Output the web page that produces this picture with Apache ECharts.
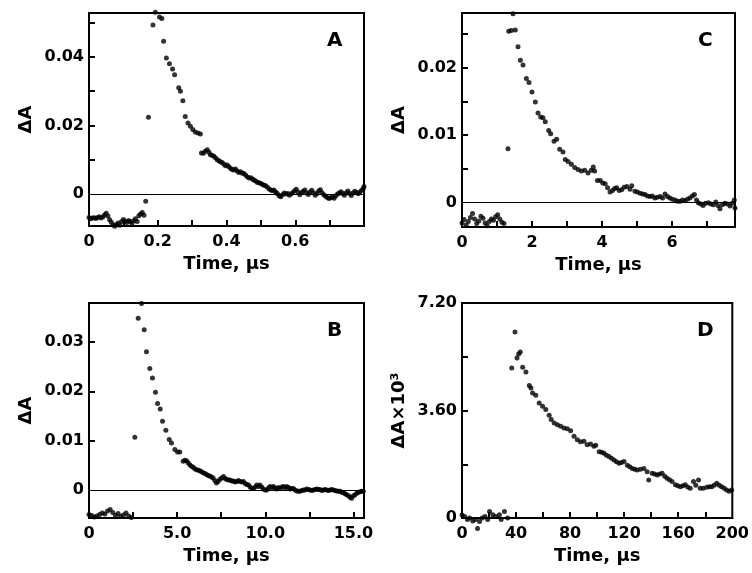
<!DOCTYPE html>
<html>
<head>
<meta charset="utf-8">
<script src="https://cdn.jsdelivr.net/npm/echarts@6/dist/echarts.min.js"></script>
<style>html,body{margin:0;padding:0;background:#fff}#chart{width:752px;height:573px}</style>
</head>
<body>
<div id="chart"></div>
<script>
// ---------------- Panel A ----------------
const aTime = [0.000,0.005,0.010,0.015,0.020,0.025,0.030,0.035,0.040,0.045,0.050,0.055,0.060,0.065,0.070,0.075,0.080,0.085,0.090,0.095,0.100,0.105,0.110,0.115,0.120,0.125,0.130,0.135,0.140,0.145,0.150,0.155,0.160,0.165,
0.173,0.186,0.193,0.205,0.212,0.217,0.225,0.234,0.243,0.249,0.261,0.266,0.273,0.280,0.288,0.295,0.302,0.309,0.317,0.324,
0.327,0.333,0.338,0.344,0.349,0.353,0.358,0.363,0.368,0.373,0.378,0.382,0.387,0.392,0.397,0.402,0.407,0.412,0.417,0.421,0.426,0.431,0.436,0.441,0.446,0.451,0.456,0.461,0.466,0.471,0.476,0.480,0.485,0.490,0.495,0.500,0.505,0.509,0.514,0.519,0.524,0.529,0.534,0.538,0.543,0.548,0.553,0.558,0.563,0.568,0.573,0.578,0.583,0.588,0.593,0.598,0.603,0.608,0.613,0.618,0.623,0.628,0.633,0.638,0.643,0.648,0.653,0.658,0.663,0.668,0.673,0.678,0.683,0.688,0.693,0.698,0.703,0.708,0.713,0.718,0.723,0.728,0.733,0.738,0.743,0.748,0.753,0.758,0.763,0.768,0.773,0.778,0.783,0.788,0.793,0.798,0.800];
const aDelta = [-0.0068,-0.0072,-0.0070,-0.0069,-0.0071,-0.0068,-0.0066,-0.0070,-0.0067,-0.0061,-0.0056,-0.0064,-0.0075,-0.0082,-0.0090,-0.0094,-0.0088,-0.0084,-0.0091,-0.0080,-0.0074,-0.0079,-0.0083,-0.0077,-0.0080,-0.0086,-0.0078,-0.0072,-0.0080,-0.0063,-0.0058,-0.0054,-0.0062,-0.0021,
0.0224,0.0493,0.0530,0.0516,0.0512,0.0446,0.0397,0.0380,0.0365,0.0348,0.0310,0.0300,0.0272,0.0226,0.0207,0.0198,0.0188,0.0181,0.0178,0.0175,
0.0120,0.0119,0.0125,0.0129,0.0122,0.0115,0.0113,0.0110,0.0106,0.0100,0.0097,0.0094,0.0092,0.0088,0.0083,0.0085,0.0080,0.0075,0.0072,0.0070,0.0073,0.0067,0.0063,0.0065,0.0061,0.0060,0.0055,0.0050,0.0047,0.0048,0.0043,0.0041,0.0038,0.0034,0.0033,0.0031,0.0028,0.0026,0.0024,0.0020,0.0015,0.0012,0.0010,0.0012,0.0006,0.0002,-0.0005,-0.0008,-0.0002,0.0003,0.0000,0.0002,-0.0003,0.0001,0.0005,0.0010,0.0014,0.0006,-0.0002,0.0004,0.0008,0.0012,0.0003,-0.0001,0.0006,0.0011,0.0004,-0.0003,0.0002,0.0009,0.0013,0.0004,-0.0002,-0.0006,-0.0010,-0.0013,-0.0011,-0.0008,-0.0012,-0.0005,0.0000,0.0003,0.0007,0.0002,-0.0003,0.0004,0.0009,0.0002,-0.0004,0.0003,0.0008,0.0005,0.0001,0.0006,0.0011,0.0016,0.0022];
const aXTicks = [0,0.1,0.2,0.3,0.4,0.5,0.6,0.7];
const aXLabels = [0,0.2,0.4,0.6];
const aYTicks = [0.01,0.02,0.03,0.04,0.05];
const aYLabels = [0,0.02,0.04];

// ---------------- Panel C ----------------
const cTime = [0.00,0.06,0.12,0.18,0.24,0.30,0.36,0.42,0.48,0.54,0.60,0.66,0.72,0.78,0.84,0.90,0.96,1.02,1.08,1.14,1.20,
1.314,1.334,1.41,1.457,1.523,1.60,1.667,1.743,1.838,1.914,2.0,2.095,2.171,2.248,2.314,2.38,2.476,2.533,2.629,2.705,2.79,2.886,2.95,3.029,3.124,3.22,3.314,3.41,3.506,3.6,3.694,3.75,3.79,3.87,3.95,4.02,4.09,4.16,4.23,4.30,4.36,4.42,4.49,4.56,4.63,4.71,4.80,4.85,4.94,5.01,5.09,5.16,5.23,5.30,5.37,5.44,5.51,5.58,5.66,5.73,5.80,5.87,5.94,6.01,6.09,6.16,6.23,6.30,6.37,6.44,6.51,6.58,6.64,6.70,6.75,6.82,6.89,6.96,7.04,7.11,7.18,7.25,7.31,7.37,7.44,7.51,7.58,7.66,7.72,7.78,7.80];
const cDelta = [-0.0030,-0.0025,-0.0033,-0.0028,-0.0022,-0.0016,-0.0024,-0.0031,-0.0027,-0.0020,-0.0023,-0.0030,-0.0034,-0.0028,-0.0024,-0.0026,-0.0021,-0.0018,-0.0024,-0.0029,-0.0031,
0.0080,0.0254,0.0255,0.0280,0.0256,0.0231,0.0211,0.0204,0.0184,0.0178,0.0164,0.0149,0.0133,0.0127,0.0126,0.0120,0.0107,0.0102,0.0091,0.0094,0.0079,0.0075,0.0064,0.0061,0.0057,0.0052,0.0049,0.0047,0.0048,0.0044,0.0048,0.0053,0.0047,0.0033,0.0033,0.0029,0.0028,0.0022,0.0016,0.0018,0.0021,0.0022,0.0018,0.0019,0.0023,0.0024,0.0020,0.0025,0.0017,0.0016,0.0014,0.0013,0.0012,0.0010,0.0009,0.0010,0.0007,0.0008,0.0009,0.0007,0.0013,0.0009,0.0007,0.0005,0.0004,0.0002,0.0002,0.0004,0.0003,0.0005,0.0007,0.0010,0.0012,0.0004,0.0000,-0.0002,-0.0004,-0.0001,0.0000,-0.0002,-0.0003,0.0001,-0.0004,-0.0009,-0.0003,-0.0001,-0.0002,-0.0005,-0.0001,0.0004,-0.0008];
const cXTicks = [0,1,2,3,4,5,6,7];
const cXLabels = [0,2,4,6];
const cYTicks = [0.005,0.01,0.015,0.02,0.025];
const cYLabels = [0,0.01,0.02];

// ---------------- Panel B ----------------
const bTime = [0.0,0.15,0.3,0.45,0.6,0.75,0.9,1.05,1.2,1.35,1.5,1.65,1.8,1.95,2.1,2.25,2.4,
2.6,2.79,2.98,3.13,3.26,3.45,3.6,3.77,3.89,4.04,4.17,4.36,4.55,4.68,4.87,5.02,5.15,5.34,5.44,5.53,5.62,5.72,5.81,5.91,6.0,6.1,6.2,6.29,6.38,6.48,6.58,6.67,6.76,6.85,6.95,7.04,7.14,7.23,7.32,7.42,7.52,7.63,7.72,7.81,7.9,8.0,8.1,8.19,8.29,8.38,8.48,8.57,8.67,8.76,8.86,8.95,9.05,9.14,9.24,9.33,9.43,9.52,9.61,9.7,9.8,9.89,9.99,10.08,10.18,10.27,10.37,10.46,10.56,10.65,10.75,10.84,10.94,11.03,11.13,11.22,11.32,11.41,11.5,11.6,11.69,11.79,11.88,11.97,12.07,12.16,12.26,12.35,12.45,12.54,12.64,12.73,12.83,12.92,13.01,13.1,13.2,13.29,13.39,13.48,13.58,13.67,13.77,13.86,13.96,14.05,14.15,14.24,14.34,14.43,14.53,14.62,14.72,14.81,14.9,15.0,15.09,15.19,15.28,15.38,15.47,15.56];
const bDelta = [-0.0050,-0.0052,-0.0055,-0.0053,-0.0050,-0.0047,-0.0049,-0.0043,-0.0040,-0.0046,-0.0052,-0.0048,-0.0054,-0.0051,-0.0047,-0.0053,-0.0056,
0.0107,0.0348,0.0378,0.0325,0.0280,0.0246,0.0227,0.0198,0.0175,0.0164,0.0139,0.0121,0.0102,0.0095,0.0082,0.0077,0.0077,0.0058,0.0060,0.0059,0.0055,0.0051,0.0048,0.0046,0.0043,0.0041,0.0040,0.0039,0.0037,0.0035,0.0033,0.0031,0.0029,0.0028,0.0026,0.0024,0.0019,0.0014,0.0017,0.0021,0.0024,0.0027,0.0023,0.0021,0.0020,0.0020,0.0018,0.0018,0.0016,0.0017,0.0019,0.0017,0.0016,0.0017,0.0013,0.0011,0.0010,0.0006,0.0003,0.0003,0.0006,0.0010,0.0007,0.0010,0.0006,0.0002,0.0000,0.0000,0.0004,0.0007,0.0005,0.0007,0.0004,0.0002,0.0005,0.0003,0.0006,0.0007,0.0004,0.0007,0.0005,0.0002,0.0003,0.0003,0.0000,-0.0002,-0.0003,-0.0003,-0.0001,0.0000,0.0000,0.0002,0.0001,0.0000,-0.0001,0.0000,0.0001,0.0002,0.0001,0.0001,-0.0001,0.0000,0.0001,0.0000,-0.0001,0.0000,0.0001,0.0000,-0.0001,-0.0002,-0.0003,-0.0003,-0.0005,-0.0006,-0.0008,-0.0010,-0.0012,-0.0015,-0.0017,-0.0012,-0.0010,-0.0007,-0.0005,-0.0004,-0.0003,-0.0003];
const bXTicks = [0,2.5,5,7.5,10,12.5,15];
const bXLabels = [0,5,10,15];
const bYTicks = [0.01,0.02,0.03];
const bYLabels = [0,0.01,0.02,0.03];

// ---------------- Panel D ----------------
const dTime = [0,2,4,5.6,8,10,11.5,13,15,17,19,20.4,22.8,25,27.7,29,31.4,33.8,
36.8,39.2,40.7,41.9,43.1,44.9,47.3,49.8,51.0,52.2,54.6,57.1,59.6,62.0,64.5,66.0,68.2,70.6,73.0,75.5,77.9,80.4,82.9,85.3,87.7,90.2,92.6,95.1,97.6,99.0,101.5,103.3,105.1,106.9,108.8,110.6,112.5,114.3,116.2,118.0,119.9,122.3,124.1,126.0,127.8,129.6,132.0,134.6,137.0,138.2,140.7,142.5,144.4,146.2,148.1,150.0,151.7,153.5,155.4,157.9,159.7,161.6,163.4,165.2,167.0,168.9,171.3,173.0,175.0,176.3,178.5,181.1,183.0,184.8,186.6,188.5,190.3,192.1,194.0,195.8,197.6,199.5];
const dDelta = [0.10,0.05,-0.05,0.00,-0.10,-0.05,-0.35,-0.12,0.00,0.05,-0.05,0.22,0.11,0.05,0.11,-0.05,0.22,0.00,
5.02,6.23,5.36,5.49,5.56,5.05,4.89,4.44,4.35,4.19,4.11,3.85,3.74,3.63,3.44,3.30,3.18,3.12,3.07,3.01,2.99,2.92,2.74,2.62,2.55,2.57,2.45,2.48,2.40,2.44,2.22,2.20,2.17,2.10,2.06,2.00,1.94,1.88,1.83,1.86,1.89,1.77,1.72,1.66,1.63,1.61,1.63,1.66,1.55,1.27,1.50,1.47,1.44,1.47,1.50,1.40,1.33,1.28,1.22,1.11,1.08,1.05,1.08,1.11,1.04,1.00,1.22,1.10,1.27,1.00,1.00,1.03,1.05,1.05,1.10,1.16,1.10,1.05,1.00,0.94,0.90,0.94];
const dXTicks = [0,20,40,60,80,100,120,140,160,180];
const dXLabels = [0,40,80,120,160,200];
const dYTicks = [1.8,3.6,5.4];
const dYLabels = [0,3.6,7.2];

const FONT = 'DejaVu Sans';
const INK = '#000';
const zip = (xs, ys) => xs.map((x, i) => [x, ys[i]]);

const panels = [
  {key:'A', grid:{left:89, top:13, width:275, height:213}, x:[0,0.8], y:[-0.0093,0.0528],
   xt:aXTicks, xl:aXLabels, yt:aYTicks, yl:aYLabels, data:zip(aTime,aDelta),
   xf:v => v === 0 ? '0' : v.toFixed(1), yf:v => v === 0 ? '0' : v.toFixed(2), yname:'ΔA', zero:true},
  {key:'C', grid:{left:462, top:13, width:273, height:214}, x:[0,7.8], y:[-0.0036,0.0281],
   xt:cXTicks, xl:cXLabels, yt:cYTicks, yl:cYLabels, data:zip(cTime,cDelta),
   xf:v => String(v), yf:v => v === 0 ? '0' : v.toFixed(2), yname:'ΔA', zero:true},
  {key:'B', grid:{left:89, top:303, width:275, height:215}, x:[0,15.6], y:[-0.0057,0.0379],
   xt:bXTicks, xl:bXLabels, yt:bYTicks, yl:bYLabels, data:zip(bTime,bDelta),
   xf:v => v === 0 ? '0' : v.toFixed(1), yf:v => v === 0 ? '0' : v.toFixed(2), yname:'ΔA', zero:true},
  {key:'D', grid:{left:462, top:303, width:272, height:215}, x:[0,200], y:[0,7.2],
   xt:dXTicks, xl:dXLabels, yt:dYTicks, yl:dYLabels, data:zip(dTime,dDelta),
   xf:v => String(v), yf:v => v === 0 ? '0' : v.toFixed(2), yname:'ΔA×10³', zero:false}
];

const grid = [], xAxis = [], yAxis = [], series = [], graphic = [];
panels.forEach((p, i) => {
  grid.push(Object.assign({show:true, borderColor:INK, borderWidth:2, backgroundColor:'transparent'}, p.grid));
  xAxis.push({
    type:'value', gridIndex:i, min:p.x[0], max:p.x[1],
    name:'Time, μs', nameLocation:'middle', nameGap:29,
    nameTextStyle:{fontFamily:FONT, fontSize:18, fontWeight:'bold', color:INK},
    axisLine:{onZero:false, lineStyle:{color:INK, width:2}},
    axisTick:{show:true, inside:true, length:6, customValues:p.xt, lineStyle:{color:INK, width:2}},
    axisLabel:{customValues:p.xl, formatter:p.xf, margin:8, fontFamily:FONT, fontSize:16, fontWeight:'bold', color:INK},
    splitLine:{show:false}
  });
  yAxis.push({
    type:'value', gridIndex:i, min:p.y[0], max:p.y[1],
    name:p.yname, nameLocation:'middle', nameGap:54, nameRotate:90,
    nameTextStyle:{fontFamily:FONT, fontSize:18, fontWeight:'bold', color:INK},
    axisLine:{lineStyle:{color:INK, width:2}},
    axisTick:{show:true, inside:true, length:6, customValues:p.yt, lineStyle:{color:INK, width:2}},
    axisLabel:{customValues:p.yl, formatter:p.yf, margin:5, fontFamily:FONT, fontSize:16, fontWeight:'bold', color:INK},
    splitLine:{show:false}
  });
  const s = {
    type:'scatter', xAxisIndex:i, yAxisIndex:i, data:p.data, clip:false,
    symbol:'circle', symbolSize:5, itemStyle:{color:INK}, silent:true
  };
  if (p.zero) {
    s.markLine = {silent:true, symbol:['none','none'], label:{show:false},
      lineStyle:{color:INK, width:1.2, type:'solid'}, data:[{yAxis:0}]};
  }
  series.push(s);
  graphic.push({type:'text', left:p.grid.left + p.grid.width - 37, top:p.grid.top + 18,
    style:{text:p.key, font:'bold 20px ' + FONT, fill:INK}});
});

const chart = echarts.init(document.getElementById('chart'), null, {renderer:'canvas'});
chart.setOption({animation:false, backgroundColor:'#fff', grid, xAxis, yAxis, series, graphic});
</script>
</body>
</html>
